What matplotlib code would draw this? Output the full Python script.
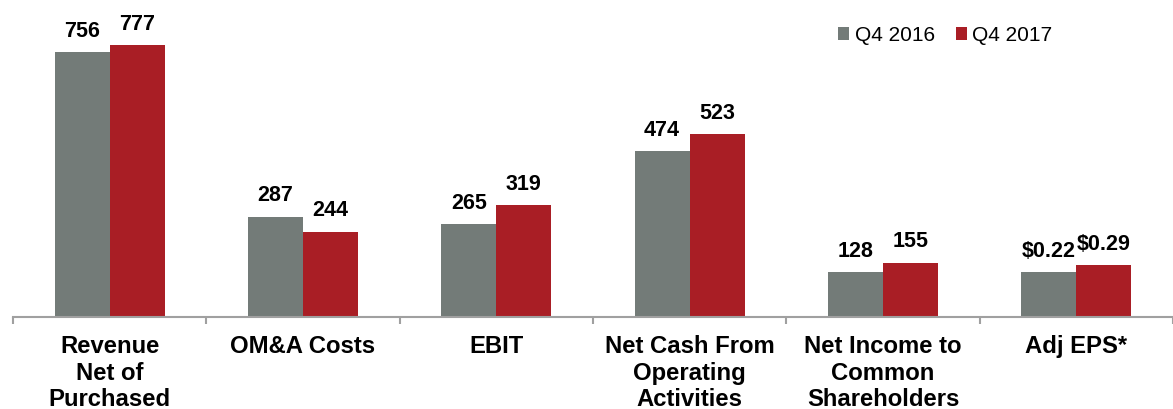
import numpy as np
import matplotlib
matplotlib.use('Agg')
import matplotlib.pyplot as plt

categories = ['Revenue\nNet of\nPurchased\nPower', 'OM&A Costs', 'EBIT',
              'Net Cash From\nOperating\nActivities',
              'Net Income to\nCommon\nShareholders', 'Adj EPS*']
# bar heights as drawn (EPS bars are drawn on their own scale in the source)
q4_2016 = [756, 287, 265, 474, 128, 128]
q4_2017 = [777, 244, 319, 523, 155, 149]
labels_2016 = ['756', '287', '265', '474', '128', '$0.22']
labels_2017 = ['777', '244', '319', '523', '155', '$0.29']
series_names = ['Q4 2016', 'Q4 2017']

gray = '#737B78'
red = '#A91E25'

plt.rcParams['font.family'] = ['Liberation Sans', 'DejaVu Sans']

fig = plt.figure(figsize=(11.73, 4.09), dpi=100)
ax = fig.add_axes([13/1173, 92/409, 1 - 13/1173, 317/409])

x = np.arange(len(categories))
w = 0.285
b1 = ax.bar(x - w/2, q4_2016, w, color=gray, label=series_names[0])
b2 = ax.bar(x + w/2, q4_2017, w, color=red, label=series_names[1])

for bars, labs in [(b1, labels_2016), (b2, labels_2017)]:
    for bar, lab in zip(bars, labs):
        ax.annotate(lab, (bar.get_x() + bar.get_width()/2, bar.get_height()),
                    xytext=(0, 11), textcoords='offset points',
                    ha='center', va='baseline', fontsize=15.5, fontweight='bold')

ax.set_xlim(-0.5, len(categories) - 0.5)
ax.set_ylim(0, 317/0.35)

for s in ['top', 'right', 'left']:
    ax.spines[s].set_visible(False)
ax.spines['bottom'].set_color('#A0A0A0')
ax.spines['bottom'].set_linewidth(1.5)
ax.set_yticks([])

ax.set_xticks(x)
ax.set_xticklabels(categories, fontsize=17.2, fontweight='bold', linespacing=1.2, va='top')
ax.tick_params(axis='x', which='major', length=0, pad=13)
ax.set_xticks(np.arange(-0.5, len(categories)), minor=True)
ax.tick_params(axis='x', which='minor', length=5, width=1.5, color='#A0A0A0', direction='out')

fig.legend(handles=[b1, b2], labels=series_names, loc='upper left',
           bbox_to_anchor=(838/1173, 1 - 26/409), ncol=2, frameon=False,
           fontsize=15, handlelength=0.55, handleheight=0.55, handletextpad=0.25,
           columnspacing=1.0, borderpad=0, borderaxespad=0)

fig.savefig('out.png', dpi=100)
